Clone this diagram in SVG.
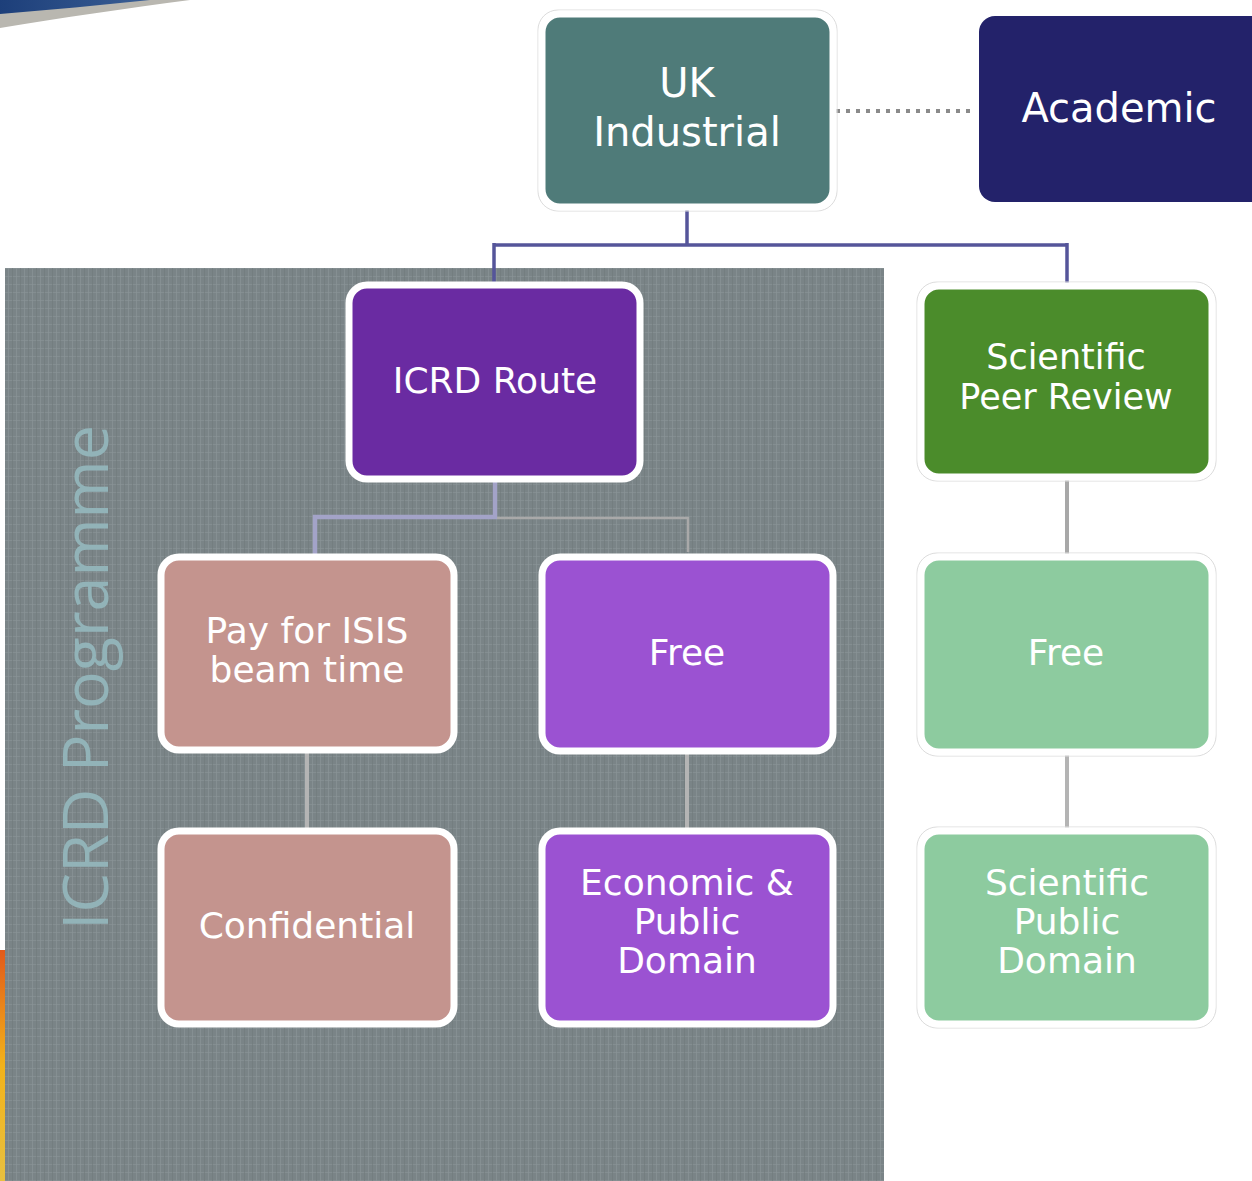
<svg xmlns="http://www.w3.org/2000/svg" width="1252" height="1181" viewBox="0 0 1252 1181">
<defs>
<pattern id="tex" width="8" height="8" patternUnits="userSpaceOnUse">
<rect width="8" height="8" fill="#7a8487"/>
<rect x="0" y="0" width="1" height="8" fill="#8a9497" opacity="0.7"/>
<rect x="0" y="4" width="8" height="1" fill="#8a9497" opacity="0.6"/>
<rect x="4" y="0" width="1" height="8" fill="#6f797c" opacity="0.6"/>
</pattern>
<linearGradient id="swoosh" x1="0" y1="0" x2="1" y2="0">
<stop offset="0" stop-color="#1d3f7a"/>
<stop offset="1" stop-color="#3a5e94"/>
</linearGradient>
<linearGradient id="edge" x1="0" y1="0" x2="0" y2="1">
<stop offset="0" stop-color="#e25a1a"/>
<stop offset="0.5" stop-color="#f2b21a"/>
<stop offset="1" stop-color="#e8c040"/>
</linearGradient>
</defs>
<style>
.node rect.frame{stroke:#ffffff;stroke-width:7}
.node rect.halo{fill:none;stroke:#dcdcdc;stroke-width:1}
.lbl{font-family:"DejaVu Sans",Verdana,sans-serif;fill:#ffffff;text-anchor:middle}
.conn{fill:none}
</style>
<rect width="1252" height="1181" fill="#ffffff"/>
<!-- top-left swoosh -->
<path d="M0 0 H190 C130 8 60 18 0 28 Z" fill="#b9b7b0"/>
<path d="M0 0 H150 C100 5 50 10 0 14 Z" fill="url(#swoosh)"/>
<!-- left edge fragments -->
<rect x="0" y="950" width="5" height="231" fill="url(#edge)"/>
<!-- ICRD Programme panel -->
<rect x="5" y="268" width="879" height="913" fill="url(#tex)"/>
<text transform="translate(108,930) rotate(-90)" font-family="'Open Sans',sans-serif" font-size="62" fill="#92b3b8" textLength="505" lengthAdjust="spacingAndGlyphs">ICRD Programme</text>
<g id="connectors" class="conn">
<line x1="836" y1="111" x2="972" y2="111" stroke="#8a8a8a" stroke-width="4" stroke-dasharray="4 6"/>
<path d="M687 207 V245 M494 245 H1067 M494 243 V282 M1067 243 V285" stroke="#55559a" stroke-width="3.5"/>
<path d="M495 480 V517 H315 V555" stroke="#a3a3c8" stroke-width="4.5"/>
<path d="M497 518 H688 V552" stroke="#a9a9a9" stroke-width="2.5"/>
<line x1="307" y1="752" x2="307" y2="829" stroke="#b4b4b4" stroke-width="4"/>
<line x1="687" y1="753" x2="687" y2="829" stroke="#b4b4b4" stroke-width="4"/>
<line x1="1067" y1="478" x2="1067" y2="554" stroke="#a8a8a8" stroke-width="4"/>
<line x1="1067" y1="754" x2="1067" y2="829" stroke="#b4b4b4" stroke-width="4"/>
</g>
<g id="uk-industrial" class="node">
<rect class="halo" x="538" y="10" width="299" height="201" rx="20"/>
<rect class="frame" x="542" y="14" width="291" height="193" rx="18" fill="#4f7b79"/>
<text class="lbl" x="687" y="97" font-size="40">UK</text>
<text class="lbl" x="687" y="146" font-size="40">Industrial</text>
</g>
<g id="academic" class="node">
<rect x="979" y="16" width="290" height="186" rx="16" fill="#23226a"/>
<text class="lbl" x="1119" y="122" font-size="40">Academic</text>
</g>
<g id="icrd-route" class="node">
<rect class="frame" x="349" y="285" width="291" height="194" rx="18" fill="#6a2ba2"/>
<text class="lbl" x="495" y="393" font-size="36">ICRD Route</text>
</g>
<g id="scientific-peer-review" class="node">
<rect class="halo" x="917" y="282" width="299" height="199" rx="20"/>
<rect class="frame" x="921" y="286" width="291" height="191" rx="18" fill="#4b8c2b"/>
<text class="lbl" x="1066" y="369" font-size="35">Scientific</text>
<text class="lbl" x="1066" y="409" font-size="35">Peer Review</text>
</g>
<g id="pay-for-isis" class="node">
<rect class="frame" x="161" y="557" width="293" height="193" rx="18" fill="#c4948e"/>
<text class="lbl" x="307" y="643" font-size="36">Pay for ISIS</text>
<text class="lbl" x="307" y="682" font-size="36">beam time</text>
</g>
<g id="free-icrd" class="node">
<rect class="frame" x="542" y="557" width="291" height="194" rx="18" fill="#9b52d2"/>
<text class="lbl" x="687" y="665" font-size="36">Free</text>
</g>
<g id="free-peer" class="node">
<rect class="halo" x="917" y="553" width="299" height="203" rx="20"/>
<rect class="frame" x="921" y="557" width="291" height="195" rx="18" fill="#8dcb9f"/>
<text class="lbl" x="1066" y="665" font-size="36">Free</text>
</g>
<g id="confidential" class="node">
<rect class="frame" x="161" y="831" width="293" height="193" rx="18" fill="#c4948e"/>
<text class="lbl" x="307" y="938" font-size="36">Confidential</text>
</g>
<g id="economic-public-domain" class="node">
<rect class="frame" x="542" y="831" width="291" height="193" rx="18" fill="#9b52d2"/>
<text class="lbl" x="687" y="895" font-size="36">Economic &amp;</text>
<text class="lbl" x="687" y="934" font-size="36">Public</text>
<text class="lbl" x="687" y="973" font-size="36">Domain</text>
</g>
<g id="scientific-public-domain" class="node">
<rect class="halo" x="917" y="827" width="299" height="201" rx="20"/>
<rect class="frame" x="921" y="831" width="291" height="193" rx="18" fill="#8dcb9f"/>
<text class="lbl" x="1067" y="895" font-size="36">Scientific</text>
<text class="lbl" x="1067" y="934" font-size="36">Public</text>
<text class="lbl" x="1067" y="973" font-size="36">Domain</text>
</g>
</svg>
